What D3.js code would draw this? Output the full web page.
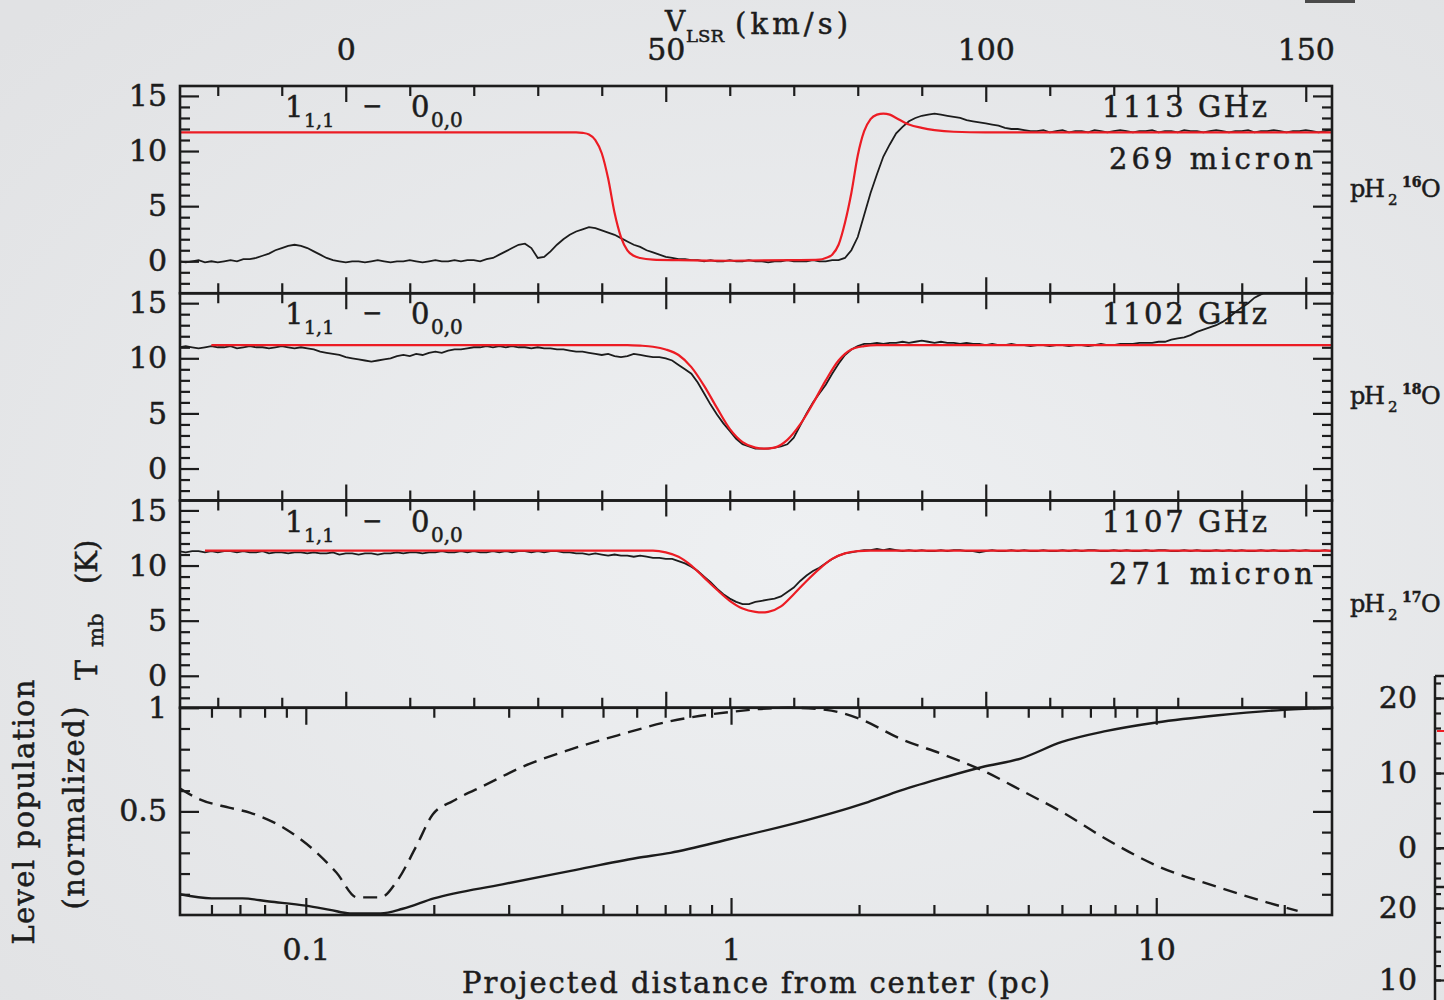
<!DOCTYPE html>
<html lang="en">
<head>
<meta charset="UTF-8" />
<title>pH2O 1(1,1)-0(0,0) spectra</title>
<script src="https://d3js.org/d3.v7.min.js"></script>
<style>
  body { margin: 0; background: #e6e7e9; }
  svg { display: block; }
  text { font-family: "DejaVu Serif", serif; fill: #1c1c1c; stroke: #1c1c1c; stroke-width: 0.5px; }
</style>
</head>
<body>
<div id="chart"></div>
<script>
// observed spectra, 1 km/s channels starting at -26 km/s
var chanStart = -26;

var obs16O = [
  0.0, -0.1, 0.0, 0.1, -0.1, 0.0, -0.1, 0.0, 0.1, 0.0,
  0.2, 0.2, 0.3, 0.5, 0.7, 1.0, 1.2, 1.4, 1.5, 1.4,
  1.2, 0.9, 0.6, 0.3, 0.1, 0.0, -0.1, 0.0, 0.0, -0.1,
  0.0, 0.1, 0.0, -0.1, 0.0, 0.0, 0.1, 0.0, -0.1, 0.0,
  0.1, 0.0, 0.0, 0.1, 0.0, 0.1, 0.1, 0.0, 0.2, 0.3,
  0.6, 0.9, 1.2, 1.5, 1.6, 1.2, 0.3, 0.4, 0.9, 1.5,
  2.0, 2.4, 2.7, 2.9, 3.1, 3.0, 2.8, 2.6, 2.4, 2.1,
  1.8, 1.5, 1.3, 1.0, 0.8, 0.6, 0.4, 0.3, 0.2, 0.2,
  0.1, 0.1, 0.0, 0.1, 0.0, 0.0, 0.1, 0.0, 0.0, 0.1,
  0.0, 0.0, -0.1, 0.0, 0.0, 0.1, 0.0, 0.0, 0.0, 0.1,
  0.0, 0.0, 0.1, 0.1, 0.3, 1.0, 2.2, 4.2, 6.2, 7.9,
  9.5, 10.6, 11.6, 12.2, 12.7, 13.0, 13.2, 13.3, 13.4, 13.3,
  13.2, 13.1, 13.0, 12.8, 12.7, 12.6, 12.5, 12.4, 12.3, 12.1,
  12.0, 12.0, 11.9, 11.8, 11.8, 11.9, 11.7, 11.8, 11.9, 11.7,
  11.8, 11.8, 11.7, 11.9, 11.8, 11.7, 11.8, 11.9, 11.8, 11.7,
  11.8, 11.8, 11.9, 11.7, 11.8, 11.8, 11.7, 11.9, 11.8, 11.8,
  11.7, 11.8, 11.9, 11.8, 11.7, 11.8, 11.8, 11.9, 11.7, 11.8,
  11.8, 11.9, 11.8, 11.7, 11.8, 11.8, 11.9, 11.8, 11.7, 11.8,
  11.9
];

var obs18O = [
  11.0, 11.1, 11.0, 10.9, 11.0, 11.1, 11.0, 11.0, 11.1, 10.9,
  11.0, 11.1, 11.0, 11.0, 10.9, 11.0, 11.1, 11.0, 10.9, 11.0,
  10.9, 10.8, 10.6, 10.5, 10.4, 10.3, 10.1, 10.0, 9.9, 9.8,
  9.7, 9.8, 9.9, 10.0, 10.2, 10.3, 10.2, 10.4, 10.3, 10.5,
  10.6, 10.5, 10.7, 10.8, 10.8, 10.9, 11.0, 11.0, 11.1, 11.0,
  11.1, 11.0, 11.1, 11.0, 11.0, 10.9, 11.0, 10.9, 10.9, 10.8,
  10.8, 10.7, 10.6, 10.6, 10.5, 10.4, 10.3, 10.4, 10.2, 10.1,
  10.2, 10.4, 10.3, 10.2, 10.1, 10.1, 10.0, 9.8, 9.4, 9.0,
  8.6, 7.8, 6.8, 5.8, 4.9, 4.1, 3.4, 2.7, 2.2, 2.0,
  1.8, 1.8, 1.8, 1.9, 2.0, 2.2, 2.8, 3.9, 5.0, 6.0,
  6.8, 7.6, 8.6, 9.5, 10.3, 10.8, 11.1, 11.3, 11.3, 11.4,
  11.3, 11.4, 11.4, 11.5, 11.4, 11.5, 11.6, 11.5, 11.4, 11.5,
  11.4, 11.4, 11.3, 11.4, 11.3, 11.3, 11.2, 11.3, 11.2, 11.2,
  11.3, 11.2, 11.2, 11.1, 11.2, 11.2, 11.1, 11.2, 11.2, 11.1,
  11.2, 11.2, 11.1, 11.2, 11.3, 11.2, 11.2, 11.3, 11.3, 11.3,
  11.4, 11.4, 11.4, 11.5, 11.5, 11.7, 11.8, 11.9, 12.1, 12.4,
  12.6, 12.8, 13.0, 13.3, 13.7, 14.2, 14.6, 15.0, 15.5, 15.8,
  16.1
];

var obs17O = [
  11.3, 11.2, 11.3, 11.3, 11.2, 11.3, 11.2, 11.3, 11.3, 11.2,
  11.3, 11.2, 11.2, 11.3, 11.1, 11.2, 11.2, 11.1, 11.2, 11.2,
  11.1, 11.2, 11.1, 11.1, 11.2, 11.0, 11.1, 11.1, 11.0, 11.1,
  11.1, 11.0, 11.1, 11.1, 11.2, 11.1, 11.2, 11.2, 11.1, 11.2,
  11.2, 11.3, 11.2, 11.2, 11.3, 11.2, 11.3, 11.2, 11.2, 11.3,
  11.2, 11.3, 11.2, 11.3, 11.3, 11.2, 11.3, 11.2, 11.3, 11.3,
  11.2, 11.2, 11.1, 11.1, 11.0, 11.1, 11.0, 10.9, 11.0, 10.9,
  10.9, 10.8, 10.9, 10.8, 10.7, 10.7, 10.6, 10.6, 10.4, 10.2,
  9.9, 9.5, 9.0, 8.5, 7.9, 7.4, 7.0, 6.7, 6.5, 6.5,
  6.7, 6.8, 6.9, 7.0, 7.2, 7.6, 8.0, 8.6, 9.1, 9.5,
  9.8, 10.2, 10.6, 10.9, 11.1, 11.2, 11.3, 11.4, 11.4, 11.5,
  11.4, 11.5, 11.4, 11.3, 11.4, 11.3, 11.4, 11.3, 11.3, 11.4,
  11.3, 11.4, 11.4, 11.3, 11.3, 11.2, 11.3, 11.4, 11.3, 11.3,
  11.4, 11.3, 11.4, 11.3, 11.3, 11.4, 11.3, 11.3, 11.4, 11.3,
  11.4, 11.3, 11.4, 11.4, 11.3, 11.3, 11.4, 11.3, 11.4, 11.3,
  11.3, 11.4, 11.3, 11.4, 11.4, 11.3, 11.3, 11.4, 11.3, 11.4,
  11.3, 11.3, 11.4, 11.3, 11.4, 11.3, 11.4, 11.3, 11.3, 11.4,
  11.3, 11.4, 11.3, 11.3, 11.4, 11.3, 11.4, 11.3, 11.3, 11.4,
  11.3
];

// model fits (red), at the listed velocities
var fitVel16O = [-26, 36, 37, 38, 39, 40, 41, 42, 43, 44, 45, 46, 48, 52, 60, 70, 74, 75, 76, 77,
  78, 79, 80, 81, 82, 83, 84, 85, 86, 88, 90, 92, 95, 100, 154];
var fit16O = [11.7, 11.7, 11.65, 11.5, 11.0, 9.8, 7.5, 4.4, 2.2, 1.0, 0.5, 0.3, 0.15, 0.1, 0.05, 0.1, 0.15, 0.3, 0.6, 1.5,
  3.5, 6.2, 9.6, 11.8, 12.9, 13.3, 13.4, 13.3, 13.0, 12.4, 12.1, 11.9, 11.75, 11.7, 11.7];

var fitVel18O = [-21, 44, 46, 48, 50, 52, 54, 56, 58, 60, 62, 64, 65.5, 67, 69, 71, 73, 75, 77, 79, 81, 83, 86, 154];
var fit18O = [11.2, 11.2, 11.15, 11.05, 10.8, 10.3, 9.2, 7.5, 5.5, 3.6, 2.4, 1.9, 1.8, 1.9, 2.6, 4.0, 5.9, 8.0, 9.8, 10.8, 11.1, 11.2, 11.2, 11.2];

var fitVel17O = [-22, 48, 50, 52, 54, 56, 58, 60, 62, 64, 65, 66, 68, 70, 72, 74, 76, 78, 80, 82, 154];
var fit17O = [11.35, 11.35, 11.2, 10.8, 10.0, 8.9, 7.8, 6.8, 6.1, 5.8, 5.75, 5.8, 6.3, 7.4, 8.6, 9.7, 10.6, 11.1, 11.3, 11.35, 11.35];

// level populations vs projected distance (pc)
var solidDist = [0.0506, 0.06, 0.071, 0.082, 0.1, 0.114, 0.127, 0.15, 0.169, 0.2, 0.29, 0.42, 0.6, 0.72,
  1.0, 1.5, 2.1, 2.5, 3.2, 3.9, 4.8, 6.0, 7.6, 10, 14, 20, 25.9];
var solidPop = [0.10, 0.08, 0.08, 0.065, 0.045, 0.025, 0.008, 0.008, 0.03, 0.08, 0.148, 0.213, 0.275, 0.30,
  0.368, 0.457, 0.545, 0.60, 0.666, 0.714, 0.755, 0.835, 0.887, 0.929, 0.964, 0.99, 1.0];
var dashDist = [0.0506, 0.0563, 0.066, 0.0738, 0.09, 0.104, 0.118, 0.132, 0.15, 0.164, 0.182, 0.199, 0.222, 0.266,
  0.319, 0.418, 0.548, 0.72, 1.0, 1.36, 1.67, 2.0, 2.5, 3.2, 3.9, 4.9, 6.0, 7.6, 10, 14, 18.2, 21.5];
var dashPop = [0.61, 0.558, 0.518, 0.494, 0.413, 0.317, 0.205, 0.085, 0.085, 0.165, 0.333, 0.486, 0.55, 0.63,
  0.71, 0.798, 0.87, 0.935, 0.98, 1.0, 0.99, 0.948, 0.851, 0.77, 0.698, 0.593, 0.497, 0.368, 0.239, 0.134, 0.061, 0.02];

// ticks
var velTicks = [0, 50, 100, 150];
var velMinor = [-20, -10, 10, 20, 30, 40, 60, 70, 80, 90, 110, 120, 130, 140];
var tmbTicks = [0, 5, 10, 15];
var tmbMinor = [-2, -1, 1, 2, 3, 4, 6, 7, 8, 9, 11, 12, 13, 14];
var distTicks = [0.1, 1, 10];
var distMinor = [0.06, 0.07, 0.08, 0.09, 0.2, 0.3, 0.4, 0.5, 0.6, 0.7, 0.8, 0.9, 2, 3, 4, 5, 6, 7, 8, 9, 20];
var popTicks = [0.5, 1];
var popMinor = [0.1, 0.2, 0.3, 0.4, 0.6, 0.7, 0.8, 0.9];

var freqLabels = ["1113  GHz", "1102  GHz", "1107  GHz"];
var waveLabels = ["269  micron", null, "271  micron"];
var isoLabels = ["16", "18", "17"];

// partial neighbouring plot at the right edge
var sideUpperTicks = [0, 10, 20];
var sideLowerTicks = [10, 20];
var sideRedLevel = 15.6;

var W = 1444, H = 1000;
var plotL = 180, plotR = 1332;
var ph = 207.25;
var ink = "#1c1c1c";
var red = "#ec1c24";

function panelTop(i) { return 86 + i * ph; }

var svg = d3.select("#chart").append("svg").attr("width", W).attr("height", H);
var defs = svg.append("defs");
var grad = defs.append("radialGradient").attr("id", "bg").attr("cx", "55%").attr("cy", "55%").attr("r", "75%");
grad.append("stop").attr("offset", "0%").attr("stop-color", "#eef0f2");
grad.append("stop").attr("offset", "100%").attr("stop-color", "#e1e2e4");
svg.append("rect").attr("width", W).attr("height", H).attr("fill", "url(#bg)");

function axis(gen, scale, tx, ty, values, len, fmt, pad) {
  var a = gen(scale).tickValues(values).tickSize(-len).tickPadding(pad || 3)
    .tickFormat(fmt || function () { return ""; });
  var g = svg.append("g").attr("transform", "translate(" + tx + "," + ty + ")").call(a);
  g.select(".domain").remove();
  g.selectAll(".tick line").attr("stroke", ink).attr("stroke-width", 2.2);
  g.selectAll(".tick text").attr("fill", ink).attr("font-size", 30);
  return g;
}

function txt(x, y, s, size, opts) {
  var t = svg.append("text").attr("x", x).attr("y", y).attr("font-size", size).text(s);
  if (opts) Object.keys(opts).forEach(function (k) { t.attr(k, opts[k]); });
  return t;
}

var x = d3.scaleLinear().domain([-25.9, 154.1]).range([plotL, plotR]);

var spectra = [
  { obs: obs16O, fitVel: fitVel16O, fit: fit16O },
  { obs: obs18O, fitVel: fitVel18O, fit: fit18O },
  { obs: obs17O, fitVel: fitVel17O, fit: fit17O }
];

spectra.forEach(function (s, i) {
  var t = panelTop(i), b = t + ph;
  var y = d3.scaleLinear().domain([-2.9, 15.9]).range([b, t]);

  defs.append("clipPath").attr("id", "clip" + i)
    .append("rect").attr("x", plotL).attr("y", t).attr("width", plotR - plotL).attr("height", ph);

  axis(d3.axisTop, x, 0, t, velMinor, 10);
  axis(d3.axisTop, x, 0, t, velTicks, 16, i === 0 ? d3.format("d") : null, 26);
  axis(d3.axisBottom, x, 0, b, velMinor, 10);
  axis(d3.axisBottom, x, 0, b, velTicks, 16);
  axis(d3.axisLeft, y, plotL, 0, tmbMinor, 10);
  axis(d3.axisLeft, y, plotL, 0, tmbTicks, 19, d3.format("d"), 13);
  axis(d3.axisRight, y, plotR, 0, tmbMinor, 10);
  axis(d3.axisRight, y, plotR, 0, tmbTicks, 19);

  var obsLine = d3.line().x(function (d, k) { return x(chanStart + k); }).y(function (d) { return y(d); });
  svg.append("path").datum(s.obs).attr("clip-path", "url(#clip" + i + ")")
    .attr("d", obsLine).attr("fill", "none").attr("stroke", ink).attr("stroke-width", 1.8);

  var fitLine = d3.line().curve(d3.curveMonotoneX)
    .x(function (d, k) { return x(s.fitVel[k]); }).y(function (d) { return y(d); });
  svg.append("path").datum(s.fit).attr("clip-path", "url(#clip" + i + ")")
    .attr("d", fitLine).attr("fill", "none").attr("stroke", red).attr("stroke-width", 2.2);

  // transition label 1(1,1) - 0(0,0)
  txt(285, t + 31, "1", 29);
  txt(304, t + 41, "1,1", 19);
  txt(362, t + 28, "\u2212", 24);
  txt(411, t + 31, "0", 29);
  txt(431, t + 41, "0,0", 20);

  txt(1102, t + 31, freqLabels[i], 29, { textLength: 165, lengthAdjust: "spacing" });
  if (waveLabels[i]) txt(1109, t + 83, waveLabels[i], 29, { textLength: 204, lengthAdjust: "spacing" });

  // isotopologue name at the right
  txt(1350, t + 111, "p", 24);
  txt(1364, t + 111, "H", 24);
  txt(1388, t + 119, "2", 15);
  txt(1402, t + 101, isoLabels[i], 14, { "font-weight": "bold" });
  txt(1421, t + 111, "O", 24);
});

// level population panel
var t4 = panelTop(3), b4 = t4 + ph;
var xd = d3.scaleLog().domain([0.0506, 25.9]).range([plotL, plotR]);
var yp = d3.scaleLinear().domain([0, 1]).range([b4, t4]);
var fmtG = d3.format("~g");

defs.append("clipPath").attr("id", "clip3")
  .append("rect").attr("x", plotL).attr("y", t4 - 2).attr("width", plotR - plotL).attr("height", ph + 2);

axis(d3.axisTop, xd, 0, t4, distMinor, 10);
axis(d3.axisTop, xd, 0, t4, distTicks, 17);
axis(d3.axisBottom, xd, 0, b4, distMinor, 10);
axis(d3.axisBottom, xd, 0, b4, distTicks, 17, fmtG, 24);
axis(d3.axisLeft, yp, plotL, 0, popMinor, 10);
axis(d3.axisLeft, yp, plotL, 0, popTicks, 19, fmtG, 13);
axis(d3.axisRight, yp, plotR, 0, popMinor, 10);
axis(d3.axisRight, yp, plotR, 0, popTicks, 19);

var solidLine = d3.line().curve(d3.curveMonotoneX)
  .x(function (d, k) { return xd(solidDist[k]); }).y(function (d) { return yp(d); });
svg.append("path").datum(solidPop).attr("clip-path", "url(#clip3)")
  .attr("d", solidLine).attr("fill", "none").attr("stroke", ink).attr("stroke-width", 2.4);

var dashLine = d3.line().curve(d3.curveMonotoneX)
  .x(function (d, k) { return xd(dashDist[k]); }).y(function (d) { return yp(d); });
svg.append("path").datum(dashPop).attr("clip-path", "url(#clip3)")
  .attr("d", dashLine).attr("fill", "none").attr("stroke", ink).attr("stroke-width", 2.4)
  .attr("stroke-dasharray", "14,8");

// frames
for (var i = 0; i < 4; i++) {
  svg.append("rect").attr("x", plotL).attr("y", panelTop(i)).attr("width", plotR - plotL).attr("height", ph)
    .attr("fill", "none").attr("stroke", ink).attr("stroke-width", 2.6);
}

// axis titles
txt(665, 31, "V", 28);
txt(686, 42, "LSR", 17, { textLength: 38, lengthAdjust: "spacingAndGlyphs" });
txt(735, 34, "(km/s)", 29, { textLength: 113, lengthAdjust: "spacing" });

txt(462, 993, "Projected distance from center (pc)", 29, { textLength: 588, lengthAdjust: "spacing" });

var tmb = svg.append("g").attr("transform", "translate(97,680) rotate(-90)");
tmb.append("text").attr("x", 0).attr("y", 0).attr("font-size", 30).text("T");
tmb.append("text").attr("x", 33).attr("y", 6).attr("font-size", 21).text("mb");
tmb.append("text").attr("x", 96).attr("y", 0).attr("font-size", 29).text("(K)");

svg.append("text").attr("transform", "translate(34,812) rotate(-90)")
  .attr("text-anchor", "middle").attr("font-size", 29)
  .attr("textLength", 265).attr("lengthAdjust", "spacing").text("Level population");
svg.append("text").attr("transform", "translate(84,808) rotate(-90)")
  .attr("text-anchor", "middle").attr("font-size", 29)
  .attr("textLength", 203).attr("lengthAdjust", "spacing").text("(normalized)");

// cropped neighbour plot on the right edge
var sideX = 1435;
var sideUp = d3.scaleLinear().domain([0, 20]).range([848, 698]);
var sideLow = d3.scaleLinear().domain([10, 20]).range([980, 908]);
svg.append("line").attr("x1", sideX).attr("x2", sideX).attr("y1", 676).attr("y2", H)
  .attr("stroke", ink).attr("stroke-width", 2.5);
svg.append("line").attr("x1", sideX).attr("x2", W).attr("y1", 676).attr("y2", 676)
  .attr("stroke", ink).attr("stroke-width", 2.5);
svg.append("line").attr("x1", sideX).attr("x2", W).attr("y1", 887).attr("y2", 887)
  .attr("stroke", ink).attr("stroke-width", 2.5);
axis(d3.axisLeft, sideUp, sideX, 0, d3.range(-4, 23, 2), 6);
axis(d3.axisLeft, sideUp, sideX, 0, sideUpperTicks, 10, d3.format("d"), 18);
axis(d3.axisLeft, sideLow, sideX, 0, d3.range(10, 23, 2), 6);
axis(d3.axisLeft, sideLow, sideX, 0, sideLowerTicks, 10, d3.format("d"), 18);
svg.append("line").attr("x1", sideX + 2).attr("x2", W).attr("y1", sideUp(sideRedLevel)).attr("y2", sideUp(sideRedLevel))
  .attr("stroke", red).attr("stroke-width", 2);
svg.append("line").attr("x1", sideX + 3).attr("x2", W).attr("y1", sideUp(0)).attr("y2", sideUp(0))
  .attr("stroke", ink).attr("stroke-width", 2);

// stray mark at the top right corner
svg.append("rect").attr("x", 1305).attr("y", 0).attr("width", 50).attr("height", 3).attr("fill", "#4a4a4a");
</script>
</body>
</html>
